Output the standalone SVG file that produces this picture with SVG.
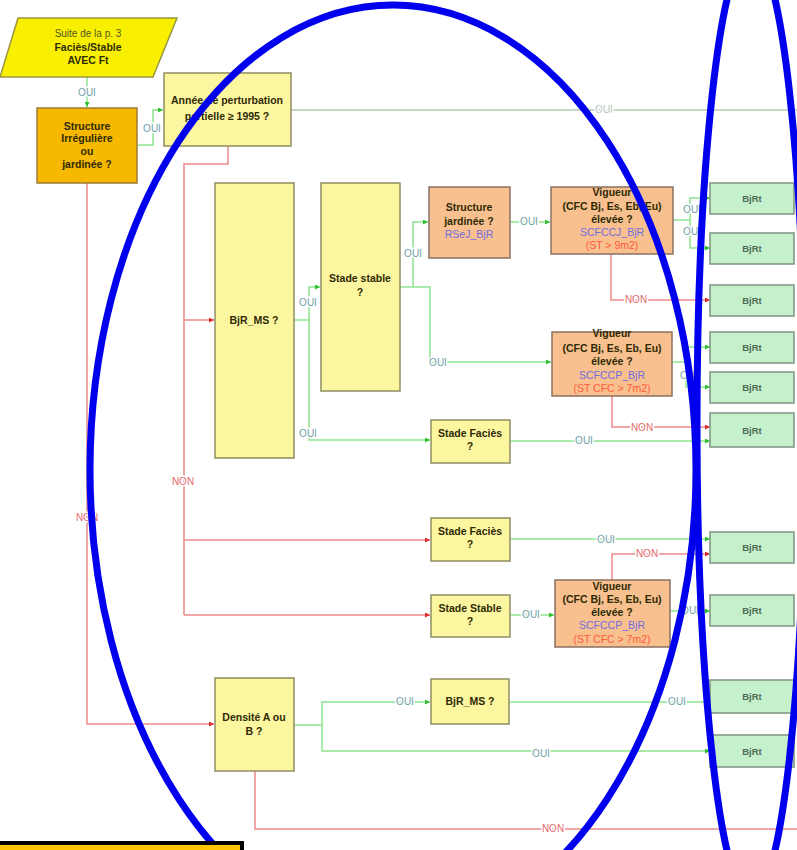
<svg xmlns="http://www.w3.org/2000/svg" width="797" height="850" viewBox="0 0 797 850">
  <style>
    .t { font-family: "Liberation Sans", Arial, sans-serif; font-size: 10.5px; font-weight: bold; fill: #2e2a05; text-anchor: middle; }
    .tn { font-weight: normal; fill: #555522; font-size: 10px; }
    .code { fill: #6f6ee0; font-weight: normal; }
    .st { fill: #ff5a3a; font-weight: normal; }
    .res { font-family: "Liberation Sans", Arial, sans-serif; font-size: 9.5px; font-weight: bold; fill: #4f6a55; text-anchor: middle; }
    .yel { fill: #fdf6a0; stroke: #8f8d62; stroke-width: 1.5; }
    .org { fill: #f6b900; stroke: #a07a35; stroke-width: 1.5; }
    .pea { fill: #f8c08e; stroke: #8b7060; stroke-width: 1.5; }
    .grn { fill: #c4f0cb; stroke: #7f9282; stroke-width: 1.5; }
    .ok { fill: none; stroke: #8fe48f; stroke-width: 1.5; marker-end: url(#ag); }
    .no { fill: none; stroke: #ea8a8a; stroke-width: 1.5; marker-end: url(#ar); }
    .non { fill: none; stroke: #ea8a8a; stroke-width: 1.5; }
    .lab { font-family: "Liberation Sans", Arial, sans-serif; font-size: 10px; text-anchor: middle; paint-order: stroke; stroke: #ffffff; stroke-width: 3px; }
    .lo { fill: #6f9ea8; }
    .ln { fill: #e46a6a; }
    .ring { fill: none; stroke: #0000ee; stroke-width: 7; }
  </style>
  <defs>
    <marker id="ag" viewBox="0 0 6 6" refX="6" refY="3" markerWidth="5" markerHeight="5" orient="auto" markerUnits="userSpaceOnUse">
      <path d="M0,0 L6,3 L0,6 z" fill="#2fc02f"/>
    </marker>
    <marker id="ar" viewBox="0 0 6 6" refX="6" refY="3" markerWidth="5" markerHeight="5" orient="auto" markerUnits="userSpaceOnUse">
      <path d="M0,0 L6,3 L0,6 z" fill="#e02a2a"/>
    </marker>
  </defs>

  <rect width="797" height="850" fill="#ffffff"/>

  <!-- connectors -->
  <g id="connectors">
    <path class="ok" d="M87,77 V107"/>
    <path class="ok" d="M138,145 H153 V110 H163"/>
    <path d="M291,110 H797" fill="none" stroke="#b4c8b4" stroke-width="1.5"/>
    <path class="non" d="M228,146 V164 H184 V615"/>
    <path class="no" d="M184,320 H214"/>
    <path class="no" d="M184,540 H430"/>
    <path class="no" d="M184,615 H430"/>
    <path class="no" d="M87,183 V724 H214"/>
    <path class="ok" d="M294,320 H309 V287 H320"/>
    <path class="ok" d="M309,320 V440 H430"/>
    <path class="ok" d="M400,287 H430 V362 H551"/>
    <path class="ok" d="M413,287 V222 H428"/>
    <path class="ok" d="M510,222 H550"/>
    <path class="ok" d="M673,220 H690 V198 H710"/>
    <path class="ok" d="M690,220 V248 H710"/>
    <path class="no" d="M611,254 V300 H710"/>
    <path class="ok" d="M672,362 H686 V347 H710"/>
    <path class="ok" d="M686,362 V387 H710"/>
    <path class="no" d="M612,396 V427 H710"/>
    <path class="ok" d="M510,441 H710"/>
    <path class="ok" d="M510,539 H710"/>
    <path class="no" d="M612,580 V554 H710"/>
    <path class="ok" d="M510,615 H554"/>
    <path class="ok" d="M670,611 H710"/>
    <path class="ok" d="M294,725 H322 V702 H430"/>
    <path class="ok" d="M322,725 V751 H710"/>
    <path class="ok" d="M509,702 H710"/>
    <path class="non" d="M255,771 V829 H797"/>

    <text class="lab lo" x="87" y="96">OUI</text>
    <text class="lab lo" x="152" y="132">OUI</text>
    <text class="lab" x="604" y="113" fill="#b8c8bc">OUI</text>
    <text class="lab ln" x="183" y="485">NON</text>
    <text class="lab ln" x="87" y="521">NON</text>
    <text class="lab lo" x="308" y="306">OUI</text>
    <text class="lab lo" x="308" y="437">OUI</text>
    <text class="lab lo" x="413" y="257">OUI</text>
    <text class="lab lo" x="438" y="366">OUI</text>
    <text class="lab lo" x="529" y="225">OUI</text>
    <text class="lab lo" x="692" y="213">OUI</text>
    <text class="lab lo" x="692" y="235">OUI</text>
    <text class="lab ln" x="636" y="303">NON</text>
    <text class="lab lo" x="689" y="379">OUI</text>
    <text class="lab ln" x="642" y="431">NON</text>
    <text class="lab lo" x="584" y="444">OUI</text>
    <text class="lab lo" x="606" y="543">OUI</text>
    <text class="lab ln" x="647" y="557">NON</text>
    <text class="lab lo" x="531" y="618">OUI</text>
    <text class="lab lo" x="690" y="614">OUI</text>
    <text class="lab lo" x="405" y="705">OUI</text>
    <text class="lab lo" x="541" y="757">OUI</text>
    <text class="lab lo" x="677" y="705">OUI</text>
    <text class="lab ln" x="553" y="832">NON</text>
  </g>

  <!-- decision nodes -->
  <g id="n-suite">
    <polygon points="0,77 18,18 177,18 153,77" fill="#f8f000" stroke="#9a9640" stroke-width="1.5"/>
    <text class="t tn" x="88" y="37">Suite de la p. 3</text>
    <text class="t" x="88" y="51">Faciès/Stable</text>
    <text class="t" x="88" y="64">AVEC Ft</text>
  </g>
  <g id="n-structure">
    <rect class="org" x="37" y="108" width="100" height="75"/>
    <text class="t" x="87" y="130">Structure</text>
    <text class="t" x="87" y="142">Irrégulière</text>
    <text class="t" x="87" y="155">ou</text>
    <text class="t" x="87" y="168">jardinée ?</text>
  </g>
  <g id="n-annee">
    <rect class="yel" x="164" y="73" width="127" height="73"/>
    <text class="t" x="227" y="104">Année de perturbation</text>
    <text class="t" x="227" y="120">partielle ≥ 1995  ?</text>
  </g>
  <g id="n-bjrms">
    <rect class="yel" x="215" y="183" width="79" height="275"/>
    <text class="t" x="254" y="324">BjR_MS ?</text>
  </g>
  <g id="n-stadestable">
    <rect class="yel" x="321" y="183" width="79" height="208"/>
    <text class="t" x="360" y="282">Stade stable</text>
    <text class="t" x="360" y="296">?</text>
  </g>
  <g id="n-jardinee">
    <rect class="pea" x="429" y="187" width="81" height="71"/>
    <text class="t" x="469" y="211">Structure</text>
    <text class="t" x="469" y="225">jardinée ?</text>
    <text class="t code" x="469" y="238">RSeJ_BjR</text>
  </g>
  <g id="n-vigueur1">
    <rect class="pea" x="551" y="187" width="122" height="67"/>
    <text class="t" x="612" y="196">Vigueur</text>
    <text class="t" x="612" y="210">(CFC Bj, Es, Eb, Eu)</text>
    <text class="t" x="612" y="223">élevée ?</text>
    <text class="t code" x="612" y="236">SCFCCJ_BjR</text>
    <text class="t st" x="612" y="249">(ST &gt; 9m2)</text>
  </g>
  <g id="n-vigueur2">
    <rect class="pea" x="552" y="332" width="120" height="64"/>
    <text class="t" x="612" y="337">Vigueur</text>
    <text class="t" x="612" y="352">(CFC Bj, Es, Eb, Eu)</text>
    <text class="t" x="612" y="365">élevée ?</text>
    <text class="t code" x="612" y="379">SCFCCP_BjR</text>
    <text class="t st" x="612" y="392">(ST CFC &gt; 7m2)</text>
  </g>
  <g id="n-facies1">
    <rect class="yel" x="431" y="420" width="79" height="43"/>
    <text class="t" x="470" y="437">Stade Faciès</text>
    <text class="t" x="470" y="450">?</text>
  </g>
  <g id="n-facies2">
    <rect class="yel" x="431" y="518" width="79" height="43"/>
    <text class="t" x="470" y="535">Stade Faciès</text>
    <text class="t" x="470" y="548">?</text>
  </g>
  <g id="n-stable2">
    <rect class="yel" x="431" y="595" width="79" height="42"/>
    <text class="t" x="470" y="612">Stade Stable</text>
    <text class="t" x="470" y="625">?</text>
  </g>
  <g id="n-vigueur3">
    <rect class="pea" x="555" y="580" width="115" height="67"/>
    <text class="t" x="612" y="590">Vigueur</text>
    <text class="t" x="612" y="603">(CFC Bj, Es, Eb, Eu)</text>
    <text class="t" x="612" y="616">élevée  ?</text>
    <text class="t code" x="612" y="629">SCFCCP_BjR</text>
    <text class="t st" x="612" y="643">(ST CFC &gt; 7m2)</text>
  </g>
  <g id="n-densite">
    <rect class="yel" x="215" y="678" width="79" height="93"/>
    <text class="t" x="254" y="721">Densité A ou</text>
    <text class="t" x="254" y="735">B ?</text>
  </g>
  <g id="n-bjrms2">
    <rect class="yel" x="431" y="679" width="78" height="45"/>
    <text class="t" x="470" y="705">BjR_MS ?</text>
  </g>

  <!-- result nodes -->
  <g id="r1"><rect class="grn" x="710" y="183" width="84" height="31"/><text class="res" x="752" y="202">BjRt</text></g>
  <g id="r2"><rect class="grn" x="710" y="233" width="84" height="31"/><text class="res" x="752" y="252">BjRt</text></g>
  <g id="r3"><rect class="grn" x="710" y="285" width="84" height="31"/><text class="res" x="752" y="304">BjRt</text></g>
  <g id="r4"><rect class="grn" x="710" y="332" width="84" height="31"/><text class="res" x="752" y="351">BjRt</text></g>
  <g id="r5"><rect class="grn" x="710" y="372" width="84" height="31"/><text class="res" x="752" y="391">BjRt</text></g>
  <g id="r6"><rect class="grn" x="710" y="413" width="84" height="34"/><text class="res" x="752" y="434">BjRt</text></g>
  <g id="r7"><rect class="grn" x="710" y="532" width="84" height="31"/><text class="res" x="752" y="551">BjRt</text></g>
  <g id="r8"><rect class="grn" x="710" y="595" width="84" height="31"/><text class="res" x="752" y="614">BjRt</text></g>
  <g id="r9"><rect class="grn" x="710" y="680" width="84" height="33"/><text class="res" x="752" y="700">BjRt</text></g>
  <g id="r10"><rect class="grn" x="710" y="735" width="84" height="32"/><text class="res" x="752" y="755">BjRt</text></g>

  <!-- highlight rings -->
  <ellipse class="ring" cx="393" cy="470" rx="303" ry="465"/>
  <ellipse class="ring" cx="751" cy="425" rx="54" ry="475"/>

  <!-- framed note at the bottom left -->
  <rect x="-3" y="843" width="245" height="20" fill="#ffc400" stroke="#000000" stroke-width="4"/>
</svg>
